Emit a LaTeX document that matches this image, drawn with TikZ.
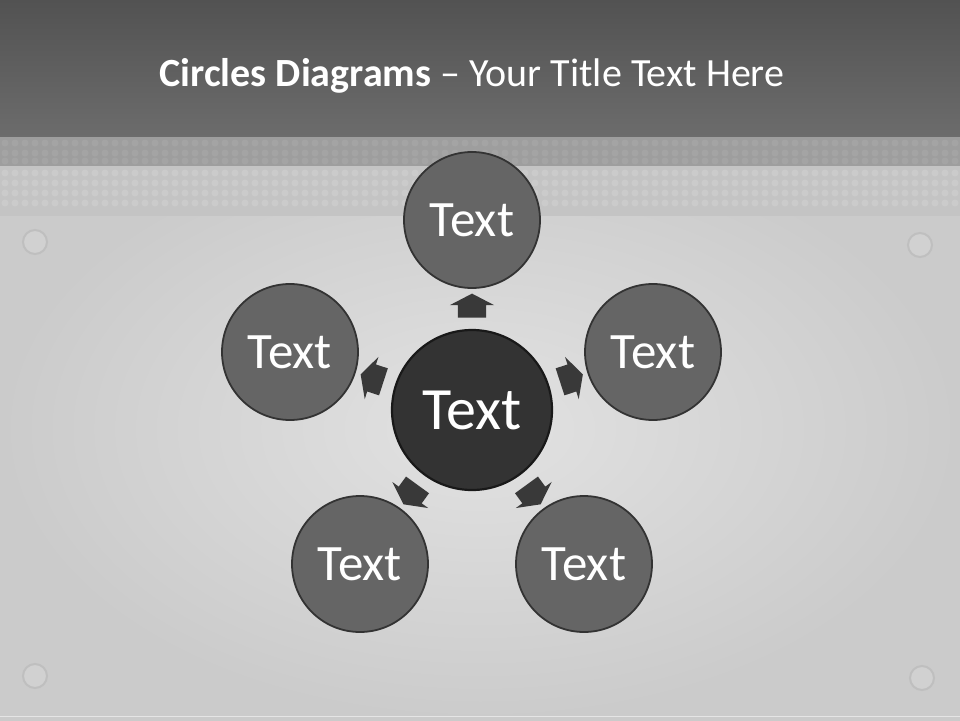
\documentclass[tikz,border=0pt]{standalone}
\usepackage{fontspec}
\setmainfont{Carlito}
\usetikzlibrary{calc,shapes.arrows}
\definecolor{headTop}{HTML}{525252}
\definecolor{headBot}{HTML}{6C6C6C}
\definecolor{bandDark}{HTML}{9E9E9E}
\definecolor{bandLight}{HTML}{C4C4C4}
\definecolor{bgIn}{HTML}{E2E2E2}
\definecolor{bgOut}{HTML}{CBCBCB}
\definecolor{ringFill}{HTML}{656565}
\definecolor{hubFill}{HTML}{333333}
\definecolor{pushFill}{HTML}{393939}
\begin{document}
\begin{tikzpicture}[x=1pt,y=-1pt,
  ring/.style={circle,fill=ringFill,draw=black!80,line width=1.8pt,minimum size=136pt,text=white,font=\fontsize{51}{55}\selectfont},
  hub/.style={circle,fill=hubFill,draw=black!90,line width=2.2pt,minimum size=160pt,text=white,font=\fontsize{60}{64}\selectfont},
  push/.style={single arrow,fill=pushFill,inner sep=0pt,inner ysep=14pt,minimum height=24pt,single arrow head extend=8pt,single arrow tip angle=125}]
\useasboundingbox (0,0) rectangle (960,720);
% background
\shade[inner color=bgIn,outer color=bgOut] (0,137) rectangle (960,720);
\shade[top color=headTop,bottom color=headBot] (0,0) rectangle (960,137);
\fill[bandDark] (0,137) rectangle (960,166);
\fill[bandLight] (0,166) rectangle (960,216);
\foreach \x in {5,15,...,955} {
  \foreach \y in {143,153,161} \fill[white,opacity=0.07] (\x,\y) circle (3.5);
  \foreach \y in {173,183,...,211} \fill[white,opacity=0.13] (\x,\y) circle (3.5);
}
\draw[white!80!gray] (0,716) -- (960,716);
% screws
\foreach \x/\y in {35/242,920/245,35/676,922/678}
  \filldraw[fill=black!18,draw=black!25,line width=2pt] (\x,\y) circle (12);
\node[text=white,font=\fontsize{40}{44}\selectfont] (title) at (472,76) {\textbf{Circles Diagrams} – Your Title Text Here};
% circles
\node[hub] (hub) at (472,410) {Text};
\node[ring] (top) at (472,220) {Text};
\node[ring] (uleft) at (290,352) {Text};
\node[ring] (uright) at (653,352) {Text};
\node[ring] (lleft) at (360,564) {Text};
\node[ring] (lright) at (584,564) {Text};
\foreach \n/\a in {top/90,uright/18,uleft/162,lleft/234,lright/306}
  \node[push,rotate=\a] (p\n) at ($(hub)!0.53!(\n)$) {};
\end{tikzpicture}
\end{document}
